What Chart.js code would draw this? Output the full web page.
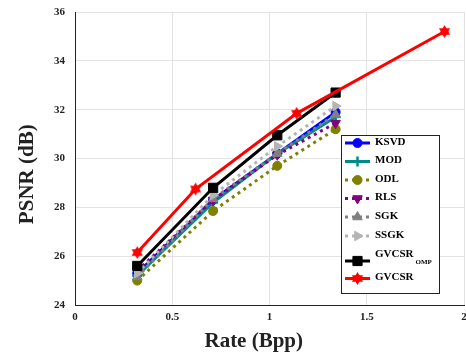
<!DOCTYPE html>
<html>
<head>
<meta charset="utf-8">
<script src="https://cdn.jsdelivr.net/npm/chart.js@4/dist/chart.umd.min.js"></script>
<style>
    body { margin: 0; background: #fff; }
</style>
</head>
<body>
<canvas id="myChart" width="466" height="360"></canvas>
<script>
// rates (bpp) and PSNR (dB)
var rateCommon = [0.32, 0.71, 1.04, 1.34];
var rateGvcsr = [0.32, 0.62, 1.14, 1.90];

var psnrKsvd = [25.3, 28.3, 30.2, 31.9];
var psnrMod = [25.2, 28.2, 30.2, 31.7];
var psnrOdl = [25.0, 27.85, 29.7, 31.2];
var psnrRls = [25.4, 28.3, 30.15, 31.45];
var psnrSgk = [25.15, 28.35, 30.2, 31.8];
var psnrSsgk = [25.3, 28.5, 30.5, 32.15];
var psnrOmp = [25.6, 28.8, 30.95, 32.7];
var psnrGvcsr = [26.15, 28.75, 31.85, 35.2];

var xTicks = [0, 0.5, 1, 1.5, 2];
var yTicks = [24, 26, 28, 30, 32, 34, 36];

var FONT = "'Liberation Serif', 'Times New Roman', serif";

// six pointed star marker
function makeHexagram(r, color) {
    var c = document.createElement('canvas');
    c.width = c.height = Math.ceil(r * 2 + 2);
    var g = c.getContext('2d');
    var cx = c.width / 2, cy = c.height / 2;
    g.fillStyle = color;
    for (var t = 0; t < 2; t++) {
        g.beginPath();
        for (var k = 0; k < 3; k++) {
            var a = -Math.PI / 2 + t * Math.PI + k * 2 * Math.PI / 3;
            var px = cx + r * Math.cos(a), py = cy + r * Math.sin(a);
            if (k === 0) g.moveTo(px, py); else g.lineTo(px, py);
        }
        g.closePath();
        g.fill();
    }
    return c;
}
var star = makeHexagram(6.5, '#ff0000');

function pts(xs, ys) {
    return xs.map(function (x, i) { return {x: x, y: ys[i]}; });
}

var series = [
    {label: 'KSVD', data: pts(rateCommon, psnrKsvd), color: '#0000ff', dash: [], style: 'circle', radius: 4.5, rot: 0, bw: 1},
    {label: 'MOD', data: pts(rateCommon, psnrMod), color: '#008b8b', dash: [], style: 'cross', radius: 5, rot: 0, bw: 2.5},
    {label: 'ODL', data: pts(rateCommon, psnrOdl), color: '#808000', dash: [3, 4], style: 'circle', radius: 4.5, rot: 0, bw: 1},
    {label: 'RLS', data: pts(rateCommon, psnrRls), color: '#800080', dash: [3, 4], style: 'triangle', radius: 5.5, rot: 180, bw: 1},
    {label: 'SGK', data: pts(rateCommon, psnrSgk), color: '#808080', dash: [3, 4], style: 'triangle', radius: 5.5, rot: 0, bw: 1},
    {label: 'SSGK', data: pts(rateCommon, psnrSsgk), color: '#b4b4b4', dash: [3, 4], style: 'triangle', radius: 5.5, rot: 90, bw: 1},
    {label: 'GVCSR', sub: 'OMP', data: pts(rateCommon, psnrOmp), color: '#000000', dash: [], style: 'rect', radius: 6.5, rot: 0, bw: 1},
    {label: 'GVCSR', data: pts(rateGvcsr, psnrGvcsr), color: '#ff0000', dash: [], style: star, radius: 7, rot: 0, bw: 0}
];

var datasets = series.map(function (s, i) {
    return {
        label: s.label,
        data: s.data,
        borderColor: s.color,
        backgroundColor: s.color,
        borderWidth: 3,
        borderDash: s.dash,
        borderCapStyle: 'butt',
        pointStyle: s.style,
        pointRadius: s.radius,
        pointRotation: s.rot,
        pointBorderWidth: s.bw,
        pointBackgroundColor: s.color,
        pointBorderColor: s.color,
        tension: 0,
        order: series.length - i
    };
});

// matlab style legend box inside the axes
var legendBox = {
    id: 'legendBox',
    afterDraw: function (chart) {
        var ctx = chart.ctx;
        var area = chart.chartArea;
        var x0 = area.right - 123, y0 = area.top + 123, w = 98, h = 158;
        var rows = [8, 26.5, 45, 63.5, 82, 101, 126, 143.5];
        ctx.save();
        ctx.fillStyle = '#fff';
        ctx.fillRect(x0, y0, w, h);
        ctx.strokeStyle = '#222';
        ctx.lineWidth = 1;
        ctx.strokeRect(x0 + 0.5, y0 + 0.5, w, h);
        series.forEach(function (s, i) {
            var y = y0 + rows[i];
            ctx.save();
            ctx.strokeStyle = s.color;
            ctx.fillStyle = s.color;
            ctx.lineWidth = 3;
            ctx.setLineDash(s.dash);
            ctx.beginPath();
            ctx.moveTo(x0 + 4, y);
            ctx.lineTo(x0 + 29, y);
            ctx.stroke();
            ctx.setLineDash([]);
            ctx.lineWidth = s.bw;
            Chart.helpers.drawPoint(ctx, {pointStyle: s.style, radius: s.radius, rotation: s.rot, borderWidth: s.bw}, x0 + 16.5, y);
            ctx.restore();
            ctx.fillStyle = '#000';
            ctx.textBaseline = 'middle';
            ctx.textAlign = 'left';
            ctx.font = 'bold 11px ' + FONT;
            if (s.sub) {
                ctx.fillText(s.label, x0 + 34, y - 7);
                var tw = ctx.measureText(s.label).width;
                ctx.font = 'bold 7px ' + FONT;
                ctx.fillText(s.sub, x0 + 36 + tw, y + 1);
            } else {
                ctx.fillText(s.label, x0 + 34, y - 1);
            }
        });
        ctx.restore();
    }
};

function noEdgePadding(axis) {
    axis.paddingLeft = 0;
    axis.paddingRight = 0;
    axis.paddingTop = 0;
    axis.paddingBottom = 0;
}

var ctx = document.getElementById('myChart').getContext('2d');
var myChart = new Chart(ctx, {
    type: 'line',
    data: {datasets: datasets},
    plugins: [legendBox],
    options: {
        responsive: false,
        animation: false,
        layout: {autoPadding: false, padding: {top: 12, right: 2, left: 0, bottom: 0}},
        plugins: {legend: {display: false}, tooltip: {enabled: false}},
        scales: {
            x: {
                type: 'linear',
                min: 0,
                max: 2,
                afterBuildTicks: function (axis) {
                    axis.ticks = xTicks.map(function (v) { return {value: v}; });
                },
                afterFit: function (axis) { axis.height = 55; noEdgePadding(axis); },
                ticks: {
                    color: '#222',
                    padding: 6,
                    maxRotation: 0,
                    font: {family: FONT, size: 11, weight: 'bold'},
                    callback: function (v) { return String(v); }
                },
                grid: {color: '#e3e3e3', drawTicks: false},
                border: {color: '#222', width: 1},
                title: {
                    display: true,
                    text: 'Rate (Bpp)      ',
                    color: '#222',
                    font: {family: FONT, size: 21, weight: 'bold'},
                    padding: {top: 0, bottom: 6}
                }
            },
            y: {
                min: 24,
                max: 36,
                afterBuildTicks: function (axis) {
                    axis.ticks = yTicks.map(function (v) { return {value: v}; });
                },
                afterFit: function (axis) { axis.width = 75; noEdgePadding(axis); },
                ticks: {
                    color: '#222',
                    padding: 10,
                    font: {family: FONT, size: 11, weight: 'bold'}
                },
                grid: {color: '#e3e3e3', drawTicks: false},
                border: {color: '#222', width: 1},
                title: {
                    display: true,
                    text: 'PSNR (dB)      ',
                    color: '#222',
                    font: {family: FONT, size: 21, weight: 'bold'},
                    padding: {top: 15, bottom: 0}
                }
            }
        }
    }
});
</script>
</body>
</html>
